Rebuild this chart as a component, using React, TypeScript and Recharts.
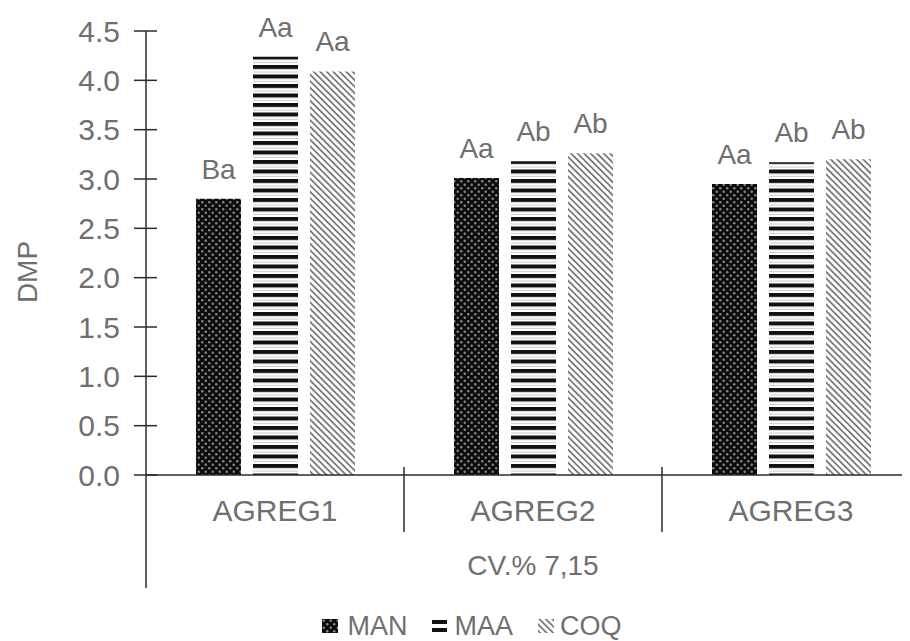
import { Bar, BarChart, LabelList, Legend, XAxis, YAxis } from "recharts";

const categories = ["AGREG1", "AGREG2", "AGREG3"];
const manValues = [2.8, 3.01, 2.95];
const maaValues = [4.24, 3.18, 3.17];
const coqValues = [4.09, 3.26, 3.2];
const manLetters = ["Ba", "Aa", "Aa"];
const maaLetters = ["Aa", "Ab", "Ab"];
const coqLetters = ["Aa", "Ab", "Ab"];
const yTicks = [0, 0.5, 1, 1.5, 2, 2.5, 3, 3.5, 4, 4.5];
const seriesNames = ["MAN", "MAA", "COQ"];

const data = categories.map((name, i) => ({
  name,
  MAN: manValues[i],
  MAA: maaValues[i],
  COQ: coqValues[i],
  manLabel: manLetters[i],
  maaLabel: maaLetters[i],
  coqLabel: coqLetters[i],
}));

const TEXT = "#6f6f6f";
const AXIS = "#2b2b2b";
const FONT = "'Liberation Sans', Arial, sans-serif";
const HALF_BAND = 129;

const YTick = (props: any) => {
  const { x, y, payload } = props;
  return (
    <g>
      <line x1={x - 12} x2={x + 11} y1={y} y2={y} stroke={AXIS} strokeWidth={1.5} />
      <text x={x - 26} y={y} dy="0.36em" textAnchor="end" fill={TEXT} fontSize={30} fontFamily={FONT}>
        {Number(payload.value).toFixed(1)}
      </text>
    </g>
  );
};

const XTick = (props: any) => {
  const { x, y, payload, index } = props;
  return (
    <g>
      {index === 0 && (
        <line x1={x - HALF_BAND} x2={x - HALF_BAND} y1={y} y2={y + 113} stroke={AXIS} strokeWidth={1.5} />
      )}
      {index < categories.length - 1 && (
        <line x1={x + HALF_BAND} x2={x + HALF_BAND} y1={y - 8} y2={y + 57} stroke={AXIS} strokeWidth={1.5} />
      )}
      <text x={x} y={y + 46} textAnchor="middle" fill={TEXT} fontSize={30} fontFamily={FONT}>
        {payload.value}
      </text>
    </g>
  );
};

const DmpLabel = (props: any) => {
  const { viewBox } = props;
  const cx = viewBox.x + 19;
  const cy = viewBox.y + viewBox.height / 2 + 19;
  return (
    <text x={cx} y={cy} dy="0.36em" textAnchor="middle" fill={TEXT} fontSize={28} fontFamily={FONT}
      transform={`rotate(-90, ${cx}, ${cy})`}>
      DMP
    </text>
  );
};

const icons: Record<string, JSX.Element> = {
  MAN: (
    <svg width={16} height={14} style={{ marginRight: 9 }}>
      <rect width={16} height={14} fill="url(#manPat)" />
    </svg>
  ),
  MAA: (
    <svg width={15} height={14} style={{ marginRight: 7 }}>
      <rect y={1} width={15} height={4} fill="#111" />
      <rect y={9} width={15} height={4} fill="#111" />
    </svg>
  ),
  COQ: (
    <svg width={16} height={14} style={{ marginRight: 6 }}>
      <rect width={16} height={14} fill="url(#coqPat)" />
    </svg>
  ),
};

const LegendContent = () => (
  <div style={{ display: "flex", justifyContent: "center", alignItems: "center", height: 24, lineHeight: "24px", paddingLeft: 16, marginTop: -3, fontFamily: FONT, fontSize: 27, color: TEXT }}>
    {seriesNames.map((n, i) => (
      <span key={n} style={{ display: "flex", alignItems: "center", marginRight: i < seriesNames.length - 1 ? 25 : 0 }}>
        {icons[n]}
        {n}
      </span>
    ))}
  </div>
);

export default function App() {
  return (
    <div style={{ width: 902, height: 633, overflow: "hidden" }}>
      <BarChart width={912} height={633} data={data} margin={{ top: 23, right: 0, left: 0, bottom: 0 }} barSize={45} barGap={12}>
        <defs>
          <pattern id="manPat" patternUnits="userSpaceOnUse" width={7} height={7}>
            <rect width={7} height={7} fill="#0d0d0d" />
            <circle cx={1.75} cy={1.75} r={1.2} fill="#8a8a8a" />
            <circle cx={5.25} cy={5.25} r={1.2} fill="#8a8a8a" />
          </pattern>
          <pattern id="maaPat" patternUnits="userSpaceOnUse" width={10} height={9.5}>
            <rect width={10} height={9.5} fill="#ffffff" />
            <rect width={10} height={4} fill="#111111" />
            <rect y={6.5} width={10} height={1} fill="#c8c8c8" />
          </pattern>
          <pattern id="coqPat" patternUnits="userSpaceOnUse" width={4.6} height={4.6} patternTransform="rotate(-45)">
            <rect width={4.6} height={4.6} fill="#ffffff" />
            <rect width={1.8} height={4.6} fill="#7a7a7a" />
          </pattern>
        </defs>
        <XAxis
          dataKey="name"
          height={142}
          tickSize={0}
          tickMargin={0}
          tick={<XTick />}
          axisLine={{ stroke: AXIS, strokeWidth: 1.5 }}
          interval={0}
          label={{ value: "CV.% 7,15", position: "insideBottom", offset: 42, fill: TEXT, fontSize: 28, fontFamily: FONT }}
        />
        <YAxis
          width={138}
          domain={[0, 4.5]}
          ticks={yTicks}
          tickSize={0}
          tickMargin={0}
          tick={<YTick />}
          axisLine={{ stroke: AXIS, strokeWidth: 1.5 }}
          label={<DmpLabel />}
        />
        <Legend verticalAlign="bottom" height={24} wrapperStyle={{ left: 0, width: 912 }} content={<LegendContent />} />
        <Bar dataKey="MAN" fill="url(#manPat)" isAnimationActive={false}>
          <LabelList dataKey="manLabel" position="top" offset={20} fill={TEXT} fontSize={28} fontFamily={FONT} />
        </Bar>
        <Bar dataKey="MAA" fill="url(#maaPat)" isAnimationActive={false}>
          <LabelList dataKey="maaLabel" position="top" offset={20} fill={TEXT} fontSize={28} fontFamily={FONT} />
        </Bar>
        <Bar dataKey="COQ" fill="url(#coqPat)" isAnimationActive={false}>
          <LabelList dataKey="coqLabel" position="top" offset={20} fill={TEXT} fontSize={28} fontFamily={FONT} />
        </Bar>
      </BarChart>
    </div>
  );
}
